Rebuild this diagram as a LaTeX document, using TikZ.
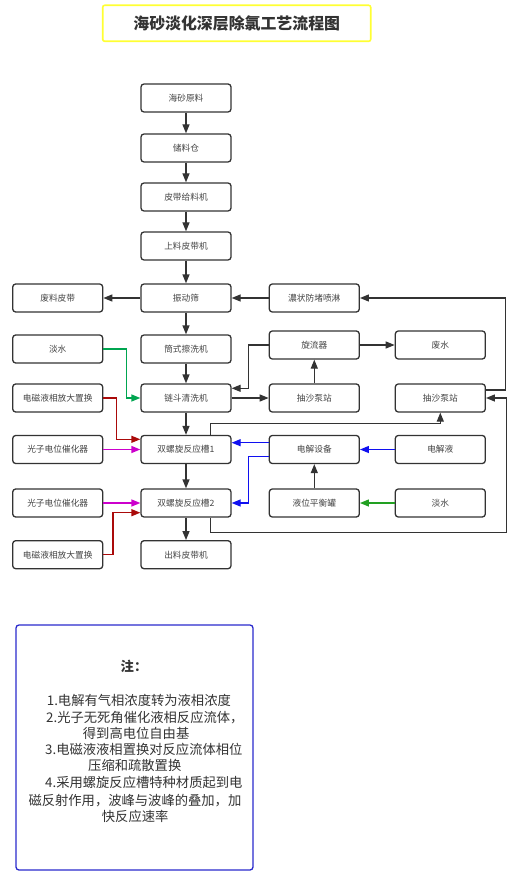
\documentclass[tikz,border=0pt]{standalone}
\usepackage{fontspec}
\newfontfamily\cjk{Noto Sans CJK SC}
\usetikzlibrary{arrows.meta,calc}
\definecolor{edge}{HTML}{333333}
\definecolor{txt}{HTML}{444444}
\definecolor{ttl}{HTML}{FFFF33}
\definecolor{grnA}{HTML}{00A550}
\definecolor{grnB}{HTML}{22A022}
\definecolor{redA}{HTML}{AA0A0A}
\definecolor{magA}{HTML}{CC00CC}
\definecolor{bluA}{HTML}{1010F0}
\definecolor{noteb}{HTML}{2A2ACC}
\begin{document}
\begin{tikzpicture}[x=1pt,y=-1pt,
  box/.style={draw=edge,line width=1.3pt,rounded corners=3pt,fill=white,
    minimum width=90pt,minimum height=28pt,inner sep=0pt,text=txt,
    font=\cjk\fontsize{8.7}{10}\selectfont},
  conn/.style={line width=1.3pt,draw=edge,-{Triangle[length=9pt,width=7pt]}},
  tipc/.style={-{Triangle[length=9pt,width=7pt,fill=#1]},draw=#1},
  notetext/.style={anchor=west,inner sep=0pt,text=edge,font=\cjk\fontsize{13.3}{15}\selectfont}]
\useasboundingbox (0,0) rectangle (520,874);
% title
\node[draw=ttl,line width=1.6pt,rounded corners=2pt,minimum width=268pt,minimum height=36pt,
  text=edge,font=\cjk\bfseries\fontsize{15.9}{18}\selectfont] (title) at (236.7,23.3) {海砂淡化深层除氯工艺流程图};
% centre column
\node[box] (n1) at (186,98) {海砂原料};
\node[box] (n2) at (186,148) {储料仓};
\node[box] (n3) at (186,197) {皮带给料机};
\node[box] (n4) at (186,246) {上料皮带机};
\node[box] (n5) at (186,298) {振动筛};
\node[box] (n6) at (186,349) {筒式擦洗机};
\node[box] (n7) at (186,398) {链斗清洗机};
\node[box] (n8) at (186,449.5) {双螺旋反应槽1};
\node[box] (n9) at (186,503) {双螺旋反应槽2};
\node[box] (n10) at (186,554.7) {出料皮带机};
% left column
\node[box] (lw) at (57.7,298) {废料皮带};
\node[box] (ls) at (57.7,349) {淡水};
\node[box] (le1) at (57.7,398) {电磁液相放大置换};
\node[box] (lp1) at (57.7,449.5) {光子电位催化器};
\node[box] (lp2) at (57.7,503) {光子电位催化器};
\node[box] (le2) at (57.7,554.7) {电磁液相放大置换};
% middle right column
\node[box] (pl) at (314.3,298) {濃状防堵喷淋};
\node[box] (xl) at (314.3,345) {旋流器};
\node[box] (cs1) at (314.3,398) {抽沙泵站};
\node[box] (dj) at (314.3,449.5) {电解设备};
\node[box] (yw) at (314.3,503) {液位平衡罐};
% right column
\node[box] (fs) at (440.3,345) {废水};
\node[box] (cs2) at (440.3,398) {抽沙泵站};
\node[box] (djy) at (440.3,449.5) {电解液};
\node[box] (rs) at (440.3,503) {淡水};
% main chain
\draw[conn] (n1) -- (n2);
\draw[conn] (n2) -- (n3);
\draw[conn] (n3) -- (n4);
\draw[conn] (n4) -- (n5);
\draw[conn] (n5) -- (n6);
\draw[conn] (n6) -- (n7);
\draw[conn] (n7) -- (n8);
\draw[conn] (n8) -- (n9);
\draw[conn] (n9) -- (n10);
\draw[conn] (n5) -- (lw);
\draw[conn] (pl) -- (n5);
% water / inputs on the left
\draw[conn,tipc=grnA] (ls.east) -- ++(23,0) |- (n7.west);
\draw[conn,tipc=redA] (le1.east) -- ++(13.3,0) |- ([yshift=10.2pt]n8.west);
\draw[conn,tipc=magA] (lp1.east) -- (n8.west);
\draw[conn,tipc=magA] (lp2.east) -- (n9.west);
\draw[conn,tipc=redA] (le2.east) -- ++(9.6,0) |- ([yshift=-9.7pt]n9.west);
% cleaning loop
\draw[conn] (n7) -- (cs1);
\draw[conn] (cs1) -- (xl);
\draw[conn] (xl) -- (fs);
\draw[conn] (xl.west) -- ++(-20,0) |- ([yshift=9.7pt]n7.east);
\draw[conn] ([yshift=8pt]cs2.east) -- ++(19.7,0) |- (pl.east);
\draw[conn] ([xshift=24.7pt]n8.north) -- ++(0,-11.3) -| (cs2.south);
\draw[conn] ([xshift=24.7pt]n9.south) -- ++(0,15) -| ([xshift=20.4pt]cs2.east) -- (cs2.east);
% electrolysis
\draw[conn,tipc=bluA] ([yshift=6.8pt]dj.west) -- ([yshift=6.8pt]n8.east);
\draw[conn,tipc=bluA] ([yshift=-7.2pt]dj.west) -- ++(-20,0) |- (n9.east);
\draw[conn,tipc=bluA] (djy) -- (dj);
\draw[conn] (yw) -- (dj);
\draw[conn,tipc=grnB] (rs) -- (yw);
% note
\node[draw=noteb,line width=1.3pt,rounded corners=3pt,minimum width=237pt,minimum height=245pt,inner sep=0pt] (note) at (134.5,747.5) {};
\node[inner sep=0pt,text=edge,font=\cjk\bfseries\fontsize{13.3}{15}\selectfont] (nt) at (134,666.7) {注：};
\node[notetext] (l1) at (46.7,700) {1.电解有气相浓度转为液相浓度};
\node[notetext] (l2) at (46,717.7) {2.光子无死角催化液相反应流体，};
\node[notetext] (l3) at (82.7,733) {得到高电位自由基};
\node[notetext] (l4) at (45,749.3) {3.电磁液液相置换对反应流体相位};
\node[notetext] (l5) at (88,765.3) {压缩和疏散置换};
\node[notetext] (l6) at (45,782.7) {4.采用螺旋反应槽特种材质起到电};
\node[notetext] (l7) at (28.3,801) {磁反射作用，波峰与波峰的叠加，加};
\node[notetext] (l8) at (101.7,816.7) {快反应速率};
\end{tikzpicture}
\end{document}
